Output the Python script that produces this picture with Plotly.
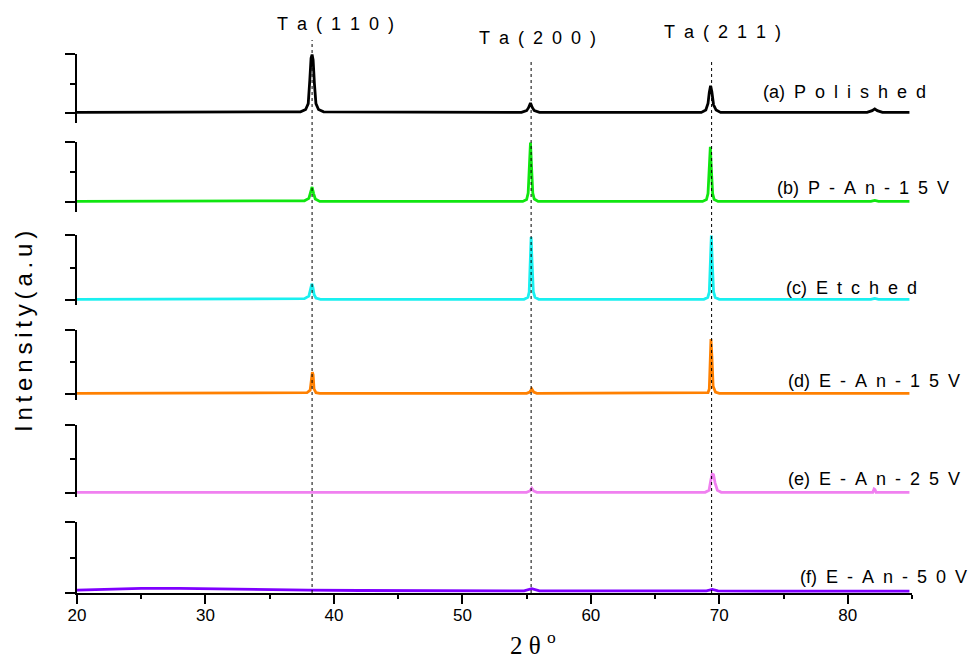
import plotly.graph_objects as go

# ---- XRD patterns (2θ in degrees, intensity normalised to each panel's full scale) ----
two_theta_a = [20, 37.4, 37.8, 38.0, 38.12, 38.22, 38.3, 38.38, 38.48, 38.6, 38.8, 39.2,
               54.6, 55.0, 55.15, 55.3, 55.45, 55.6, 56.0,
               68.6, 68.95, 69.12, 69.22, 69.32, 69.42, 69.55, 69.75, 70.1,
               81.5, 81.9, 82.1, 82.3, 82.7, 84.8]
intensity_a = [0.01, 0.02, 0.06, 0.16, 0.55, 0.93, 0.99, 0.9, 0.5, 0.16, 0.06, 0.02,
               0.01, 0.04, 0.09, 0.17, 0.09, 0.04, 0.01,
               0.01, 0.05, 0.16, 0.35, 0.46, 0.36, 0.14, 0.05, 0.01,
               0.01, 0.04, 0.07, 0.04, 0.01, 0.01]

two_theta_b = [20, 37.7, 38.05, 38.18, 38.3, 38.42, 38.55, 38.9,
               54.7, 55.0, 55.12, 55.22, 55.3, 55.38, 55.48, 55.6, 55.9,
               68.7, 69.0, 69.12, 69.22, 69.3, 69.38, 69.48, 69.6, 69.9,
               81.8, 82.1, 82.4, 84.8]
intensity_b = [0.01, 0.02, 0.06, 0.15, 0.25, 0.14, 0.05, 0.01,
               0.01, 0.04, 0.15, 0.62, 0.99, 0.6, 0.15, 0.05, 0.01,
               0.01, 0.04, 0.14, 0.57, 0.92, 0.55, 0.14, 0.04, 0.01,
               0.01, 0.025, 0.01, 0.01]

two_theta_c = [20, 37.7, 38.05, 38.18, 38.28, 38.36, 38.46, 38.6, 38.95,
               54.8, 55.1, 55.2, 55.28, 55.35, 55.42, 55.52, 55.65, 55.95,
               68.8, 69.1, 69.22, 69.31, 69.38, 69.45, 69.55, 69.68, 70.0,
               81.8, 82.1, 82.4, 84.8]
intensity_c = [0.01, 0.02, 0.06, 0.15, 0.25, 0.2, 0.08, 0.03, 0.01,
               0.01, 0.04, 0.12, 0.55, 0.97, 0.6, 0.13, 0.04, 0.01,
               0.01, 0.04, 0.12, 0.55, 0.99, 0.6, 0.13, 0.04, 0.01,
               0.01, 0.025, 0.01, 0.01]

two_theta_d = [20, 37.9, 38.15, 38.25, 38.32, 38.38, 38.45, 38.6, 38.9,
               55.0, 55.25, 55.4, 55.55, 55.8,
               68.9, 69.12, 69.22, 69.29, 69.35, 69.42, 69.52, 69.7, 70.0,
               84.8]
intensity_d = [0.01, 0.02, 0.06, 0.2, 0.34, 0.3, 0.08, 0.02, 0.01,
               0.01, 0.03, 0.08, 0.03, 0.01,
               0.01, 0.02, 0.08, 0.5, 0.86, 0.6, 0.12, 0.03, 0.01,
               0.01]

two_theta_e = [20, 38.0, 38.3, 38.6, 55.0, 55.25, 55.4, 55.55, 55.8,
               68.9, 69.2, 69.35, 69.45, 69.55, 69.67, 69.85, 70.15,
               81.95, 82.05, 82.12, 82.2, 84.8]
intensity_e = [0.01, 0.01, 0.02, 0.01, 0.01, 0.03, 0.07, 0.03, 0.01,
               0.01, 0.04, 0.2, 0.28, 0.27, 0.15, 0.04, 0.01,
               0.01, 0.06, 0.05, 0.01, 0.01]

two_theta_f = [20, 22, 25, 28, 31, 35, 38, 42, 48, 54.8, 55.4, 56.0, 62,
               69.0, 69.45, 69.9, 76, 84.8]
intensity_f = [0.04, 0.05, 0.065, 0.065, 0.055, 0.05, 0.04, 0.035, 0.03, 0.03, 0.06, 0.03, 0.03,
               0.03, 0.05, 0.03, 0.025, 0.025]

sample_tags = ["(a)", "(b)", "(c)", "(d)", "(e)", "(f)"]
sample_names = ["Polished", "P-An-15V", "Etched", "E-An-15V", "E-An-25V", "E-An-50V"]
sample_colors = ["#000000", "#10e610", "#1af0f0", "#ff8000", "#f080f0", "#7f00ff"]

reflection_labels = ["Ta(110)", "Ta(200)", "Ta(211)"]
reflection_positions = [38.3, 55.35, 69.4]

x_ticks = [20, 30, 40, 50, 60, 70, 80]

series = [
    (two_theta_a, intensity_a),
    (two_theta_b, intensity_b),
    (two_theta_c, intensity_c),
    (two_theta_d, intensity_d),
    (two_theta_e, intensity_e),
    (two_theta_f, intensity_f),
]

# ---- page geometry (pixels) ----
W, H = 971, 658
L, R, T, B = 77, 59, 0, 65
PLOT_W = W - L - R
PLOT_H = H - T - B

def py(p):
    """pixel row -> paper y"""
    return (H - B - p) / PLOT_H

def px(p):
    """pixel column -> paper x"""
    return (p - L) / PLOT_W

# each stacked panel: (top tick row, zero row, bottom of axis line row)
panels = [(54, 113, 123), (142, 202, 212), (235, 300, 305),
          (330, 394, 400), (425, 493, 497), (522, 593, 593)]

NB = "\u00a0"
EN = "\u2002"

def spaced(s, gap):
    return gap.join(list(s))

fig = go.Figure()

for i, ((xs, ys), color) in enumerate(zip(series, sample_colors)):
    fig.add_trace(go.Scatter(
        x=xs, y=ys, mode="lines",
        line=dict(color=color, width=2.8),
        xaxis="x", yaxis="y" if i == 0 else f"y{i + 1}",
        showlegend=False, hoverinfo="skip",
    ))

SANS = "Liberation Sans, Arial, sans-serif"

layout = dict(
    width=W, height=H,
    margin=dict(l=L, r=R, t=T, b=B),
    paper_bgcolor="white", plot_bgcolor="white",
    font=dict(family=SANS, color="black", size=16),
    xaxis=dict(
        range=[20, 85], anchor="y6", domain=[0, 1],
        showline=True, linewidth=2, linecolor="black",
        ticks="outside", ticklen=9, tickwidth=2, tickcolor="black",
        tickmode="array", tickvals=x_ticks, ticktext=[str(t) for t in x_ticks],
        tickfont=dict(size=17, family=SANS, color="black"),
        ticklabelstandoff=-3,
        minor=dict(tickmode="linear", tick0=25, dtick=10, ticks="outside",
                   ticklen=4, tickwidth=2, tickcolor="black", showgrid=False),
        showgrid=False, zeroline=False,
    ),
)

for i, (top, zero, bottom) in enumerate(panels):
    unit = zero - top
    lo = -(bottom - zero) / unit
    key = "yaxis" if i == 0 else f"yaxis{i + 1}"
    layout[key] = dict(
        domain=[py(bottom), py(top)], range=[lo, 1], anchor="x",
        showline=True, linewidth=2, linecolor="black",
        ticks="outside", ticklen=10, tickwidth=2, tickcolor="black",
        tickmode="array", tickvals=[0, 1], showticklabels=False,
        minor=dict(tickmode="array", tickvals=[0.5], ticks="outside",
                   ticklen=5, tickwidth=2, tickcolor="black", showgrid=False),
        showgrid=False, zeroline=False,
    )

fig.update_layout(**layout)

# dotted guides through the Ta reflections
guide_tops = [40, 62, 62]
for pos, top in zip(reflection_positions, guide_tops):
    fig.add_shape(type="line", xref="x", yref="paper",
                  x0=pos, x1=pos, y0=0, y1=py(top),
                  line=dict(color="black", width=1, dash="dot"))

# reflection labels
label_centers = [(335, 24), (537, 38), (722, 32)]
for text, (cx, cy) in zip(reflection_labels, label_centers):
    fig.add_annotation(text=spaced(text, EN), xref="paper", yref="paper",
                       x=px(cx), y=py(cy), xanchor="center", yanchor="middle",
                       showarrow=False, font=dict(size=18))

# sample labels, right aligned above each baseline
label_right = [(928, 92), (951, 188), (919, 288), (962, 381), (962, 479), (969, 577)]
for tag, name, (rx, cy) in zip(sample_tags, sample_names, label_right):
    fig.add_annotation(text=tag + EN + spaced(name, EN), xref="paper", yref="paper",
                       x=px(rx), y=py(cy), xanchor="right", yanchor="middle",
                       showarrow=False, font=dict(size=18))

# axis titles
fig.add_annotation(text=spaced("Intensity(a.u)", "\u2009"), xref="paper", yref="paper",
                   x=px(24), y=py(332), xanchor="center", yanchor="middle",
                   textangle=-90, showarrow=False, font=dict(size=24))
fig.add_annotation(text="2" + NB + "θ" + NB + "<sup>o</sup>", xref="paper", yref="paper",
                   x=px(533), y=py(643), xanchor="center", yanchor="middle",
                   showarrow=False,
                   font=dict(size=25, family="Liberation Serif, Times New Roman, serif"))

fig.write_html("out.html")
